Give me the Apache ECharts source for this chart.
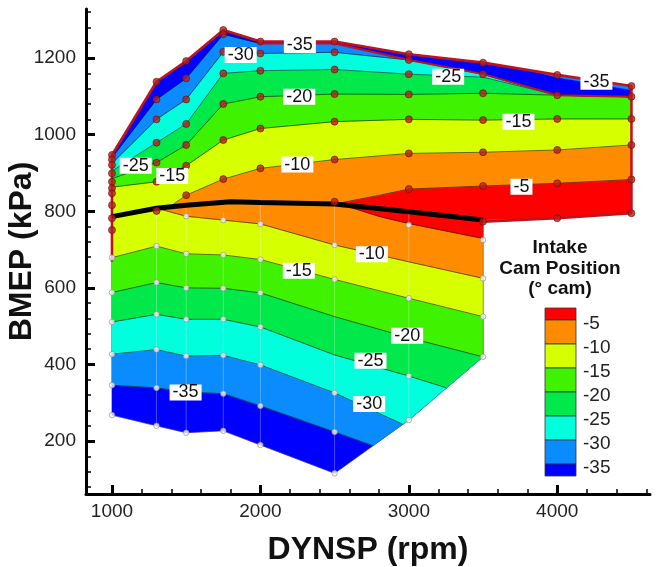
<!DOCTYPE html>
<html><head><meta charset="utf-8">
<script src="https://cdn.jsdelivr.net/npm/echarts@6/dist/echarts.min.js"></script>
<style>html,body{margin:0;padding:0;background:#fff}#c{width:657px;height:567px}</style>
</head><body><div id="c"></div>
<script>
// ---------- axes ----------
const X_MIN = 825, X_MAX = 4625, Y_MIN = 62, Y_MAX = 1328;
const xMajor = [1000, 2000, 3000, 4000];
const xMinor = [1200,1400,1600,1800,2200,2400,2600,2800,3200,3400,3600,3800,4200,4400,4600];
const yMajor = [200, 400, 600, 800, 1000, 1200];
const yMinor = [80,120,160,240,280,320,360,440,480,520,560,640,680,720,760,840,880,920,960,1040,1080,1120,1160,1240,1280,1320];

// ---------- band colours (low -> high cam position) ----------
const bandColors = ['#0000ff', '#0a8cff', '#00ffdd', '#00e84a', '#3ff200', '#d6ff00', '#ff8c00', '#ff0000'];
const legendLevels = ['-5', '-10', '-15', '-20', '-25', '-30', '-35'];

// ---------- boundaries ----------
const blackLine = [[1000,786],[1300,808],[1500,816],[1800,825],[2000,823],[2500,819],[3000,799],[3500,777]];
const lowBottom = [[1000,268],[1300,240],[1500,222],[1750,227],[2000,190],[2500,116],[3000,255],[3500,420]];
const upTop = [[1000,947],[1300,1138],[1500,1192],[1750,1273],[2000,1243],[2500,1243],[3000,1210],[3500,1188],[4000,1156],[4500,1127]];
const upBottomRight = [[4000,782],[4500,795]];
const redOutline = [[1000,668],[1000,947],[1300,1138],[1500,1192],[1750,1273],[2000,1243],[2500,1243],[3000,1210],[3500,1188],[4000,1156],[4500,1127],[4500,795],[4000,782],[3500,773]];
const redInner = [[2000,1238],[2500,1238],[3000,1195],[3500,1158],[4000,1103],[4500,1099]];

// ---------- lower map contours (value rises with BMEP) ----------
const lowM35 = [[1000,346],[1300,339],[1500,328],[1750,324],[2000,292],[2500,224],[2758,188]];
const lowM30 = [[1000,427],[1300,439],[1500,422],[1750,424],[2000,399],[2500,326],[2960,244]];
const lowM25 = [[1000,511],[1300,531],[1500,518],[1750,518],[2000,498],[2500,425],[3000,370],[3254,339]];
const lowM20 = [[1000,588],[1300,614],[1500,600],[1750,599],[2000,587],[2500,525],[3000,470],[3500,420]];
const lowM15 = [[1000,679],[1300,709],[1500,689],[1750,686],[2000,674],[2500,622],[3000,573],[3500,525]];
const lowM10 = [[1300,808],[1500,787],[1750,777],[2000,767],[2500,712],[3000,668],[3500,625]];
const lowM5  = [[2550,817],[2805,786],[3000,768],[3500,729]];

// ---------- upper map contours (value falls with BMEP) ----------
const upM5  = [[2500,819],[2805,842],[3000,858],[3500,866],[4000,873],[4500,883]];
const upM10 = [[1390,812],[1500,842],[1750,884],[2000,912],[2500,935],[3000,951],[3500,954],[4000,960],[4500,973]];
const upM15 = [[1000,863],[1300,877],[1500,919],[1750,986],[2000,1016],[2500,1034],[3000,1040],[3500,1038],[4000,1041],[4500,1041]];
const upM20 = [[1000,885],[1300,927],[1500,973],[1750,1080],[2000,1099],[2500,1106],[3000,1105],[3500,1108],[4000,1103],[4500,1099]];
const upM25 = [[1000,905],[1300,979],[1500,1028],[1750,1160],[2000,1167],[2500,1170],[3000,1158],[3500,1150],[4000,1103],[4500,1099]];
const upM30 = [[1000,925],[1300,1040],[1500,1092],[1750,1216],[2000,1212],[2500,1215],[3000,1195],[3500,1158],[4000,1103],[4500,1099]];
const upM35 = [[1000,940],[1300,1092],[1500,1147],[1750,1262],[2000,1238],[2500,1238],[3000,1195],[3500,1158],[4000,1103],[4500,1099]];
const upWedge = [[3800,1169],[4000,1150],[4500,1117]];

// ---------- measured points ----------
const redPoints = [
  [1000,947],[1000,935],[1000,921],[1000,899],[1000,877],[1000,860],[1000,847],[1000,816],[1000,782],[1000,751],
  [1300,1138],[1300,1092],[1300,1040],[1300,979],[1300,927],[1300,877],[1300,801],
  [1500,1192],[1500,1147],[1500,1092],[1500,1028],[1500,973],[1500,919],[1500,842],
  [1750,1273],[1750,1262],[1750,1216],[1750,1160],[1750,1080],[1750,986],[1750,884],
  [2000,1243],[2000,1212],[2000,1167],[2000,1099],[2000,1016],[2000,912],
  [2500,1243],[2500,1215],[2500,1170],[2500,1106],[2500,1034],[2500,935],[2500,825],
  [3000,1210],[3000,1195],[3000,1158],[3000,1105],[3000,1040],[3000,951],[3000,858],
  [3500,1188],[3500,1158],[3500,1108],[3500,1038],[3500,954],[3500,866],[3500,773],
  [4000,1156],[4000,1103],[4000,1041],[4000,960],[4000,873],[4000,782],
  [4500,1127],[4500,1099],[4500,1041],[4500,973],[4500,883],[4500,795]
];
const whitePoints = [
  [1000,268],[1000,346],[1000,427],[1000,511],[1000,588],[1000,679],
  [1300,240],[1300,339],[1300,439],[1300,531],[1300,614],[1300,709],
  [1500,222],[1500,328],[1500,422],[1500,518],[1500,600],[1500,689],[1500,787],
  [1750,227],[1750,324],[1750,424],[1750,518],[1750,599],[1750,686],[1750,777],
  [2000,190],[2000,292],[2000,399],[2000,498],[2000,587],[2000,674],[2000,767],
  [2500,116],[2500,224],[2500,326],[2500,622],[2500,712],
  [3000,255],[3000,370],[3000,573],[3000,764],
  [3500,420],[3500,525],[3500,625],[3500,725]
];

// ---------- contour labels ----------
const labelText = ['-35','-30','-20','-10','-25','-15','-25','-35','-15','-5','-15','-35','-10','-20','-25','-30'];
const labelPos = [[2266,1234],[1867,1208],[2262,1099],[2249,922],[1160,919],[1406,892],[3265,1151],[4264,1138],[3739,1034],[3759,864],[2259,645],[1496,327],[2751,688],[2989,475],[2742,410],[2733,297]];

// ---------- geometry helpers (work in data units) ----------
const SX = 564 / (X_MAX - X_MIN), SY = 485 / (Y_MAX - Y_MIN);
function locate(B, p) {
  let best = null;
  for (let i = 0; i < B.length; i++) {
    const a = B[i], b = B[(i + 1) % B.length];
    const ax = a[0]*SX, ay = a[1]*SY, bx = b[0]*SX, by = b[1]*SY, px = p[0]*SX, py = p[1]*SY;
    const dx = bx - ax, dy = by - ay, L2 = dx*dx + dy*dy;
    let t = L2 ? ((px-ax)*dx + (py-ay)*dy) / L2 : 0;
    t = Math.max(0, Math.min(1, t));
    const qx = ax + t*dx, qy = ay + t*dy, d = (px-qx)*(px-qx) + (py-qy)*(py-qy);
    if (!best || d < best.d - 1e-9) best = {i, t, d};
  }
  return best;
}
function above(B, line) {
  const n = B.length, s = locate(B, line[0]), e = locate(B, line[line.length - 1]);
  const pts = line.slice();
  let k = (e.i + 1) % n; const stop = (s.i + 1) % n; let g = 0;
  while (k !== stop && g++ < n) { pts.push(B[k]); k = (k + 1) % n; }
  return pts;
}
const lowBoundary = lowBottom.concat(blackLine.slice().reverse());
const upBoundary = [upBottomRight[1]].concat(upTop.slice().reverse(), blackLine, [upBottomRight[0]]);

const lowLines = [lowM35, lowM30, lowM25, lowM20, lowM15, lowM10, lowM5];
const upLines = [upM5, upM10, upM15, upM20, upM25, upM30, upM35];

const polys = [];
polys.push({pts: lowBoundary, color: bandColors[0]});
lowLines.forEach((ln, i) => polys.push({pts: above(lowBoundary, ln), color: bandColors[i + 1]}));
polys.push({pts: upBoundary, color: bandColors[7]});
upLines.forEach((ln, i) => polys.push({pts: above(upBoundary, ln), color: bandColors[6 - i]}));
polys.push({pts: above(upBoundary, upWedge), color: bandColors[1]});

const FONT = '"Liberation Sans", Arial, Helvetica, sans-serif';

const series = [];
series.push({
  type: 'custom', name: 'bands', coordinateSystem: 'cartesian2d', silent: true, z: 1,
  data: polys.map((p, i) => [i]),
  renderItem: function (params, api) {
    const p = polys[api.value(0)];
    return {type: 'polygon', z2: api.value(0),
      shape: {points: p.pts.map(q => api.coord(q))},
      style: {fill: p.color, stroke: p.color, lineWidth: 0.6}};
  }
});
// faint mesh columns of the lower map
const meshCols = [1300, 1500, 1750, 2000, 2500, 3000];
meshCols.forEach(function (cx) {
  const b = lowBottom.find(q => q[0] === cx), t = blackLine.find(q => q[0] === cx) || [cx, 799];
  series.push({type: 'line', silent: true, z: 2, symbol: 'none', animation: false,
    data: [b, [cx, t[1]]], lineStyle: {color: 'rgba(255,255,255,0.35)', width: 0.8}});
});
lowLines.concat(upLines).forEach(function (ln) {
  series.push({type: 'line', silent: true, z: 3, symbol: 'none', animation: false,
    data: ln, lineStyle: {color: 'rgba(20,20,20,0.75)', width: 0.8}});
});
series.push({type: 'line', silent: true, z: 4, symbol: 'none', animation: false,
  data: lowBottom.concat([[3500, 777]]), lineStyle: {color: 'rgba(90,90,90,0.5)', width: 0.6}});
series.push({type: 'line', silent: true, z: 5, symbol: 'none', animation: false,
  data: redInner, lineStyle: {color: '#c0141c', width: 2}});
series.push({type: 'line', silent: true, z: 5, symbol: 'none', animation: false,
  data: redOutline, lineStyle: {color: '#c0141c', width: 2.6}});
series.push({type: 'line', silent: true, z: 6, symbol: 'none', animation: false,
  data: blackLine, lineStyle: {color: '#000', width: 5}});
series.push({type: 'scatter', silent: true, z: 7, symbolSize: 5.5, animation: false,
  data: whitePoints, itemStyle: {color: '#f2f2f2', borderColor: '#8a8a8a', borderWidth: 0.8}});
series.push({type: 'scatter', silent: true, z: 7, symbolSize: 7, animation: false,
  data: redPoints, itemStyle: {color: '#b3211d', borderColor: '#6e0c0c', borderWidth: 0.8}});
series.push({
  type: 'custom', name: 'labels', coordinateSystem: 'cartesian2d', silent: true, z: 8,
  data: labelText.map((t, i) => [i]),
  renderItem: function (params, api) {
    const i = api.value(0), c = api.coord(labelPos[i]);
    return {type: 'text', x: c[0], y: c[1],
      style: {text: labelText[i], font: '18px ' + FONT, fill: '#111', align: 'center', verticalAlign: 'middle',
        backgroundColor: '#fff', padding: [1, 3, 0, 3], lineHeight: 15}};
  }
});

// ---------- legend (colour bar) ----------
const barColorsTopDown = bandColors.slice().reverse();
const graphics = [];
const barX = 545, barW = 31, barTop = 308, full = 24, half = 12;
let yy = barTop;
barColorsTopDown.forEach(function (col, i) {
  const h = (i === 0 || i === barColorsTopDown.length - 1) ? half : full;
  graphics.push({type: 'rect', shape: {x: barX, y: yy, width: barW, height: h},
    style: {fill: col, stroke: '#333', lineWidth: 0.8}, z: 10});
  if (i < legendLevels.length) {
    graphics.push({type: 'text', x: barX + barW + 7, y: yy + h + 4,
      style: {text: legendLevels[i], font: '19px ' + FONT, fill: '#222', verticalAlign: 'middle', align: 'left'}, z: 10});
  }
  yy += h;
});
['Intake', 'Cam Position', '(\u00b0 cam)'].forEach(function (t, i) {
  graphics.push({type: 'text', x: 560, y: 248 + i * 20.5,
    style: {text: t, font: 'bold 19px ' + FONT, fill: '#111', align: 'center', verticalAlign: 'middle'}, z: 10});
});

const plain = v => String(v);
const chart = echarts.init(document.getElementById('c'), null, {renderer: 'canvas'});
chart.setOption({
  animation: false,
  backgroundColor: '#fff',
  grid: {left: 86, right: 7, top: 9, bottom: 73, containLabel: false, outerBoundsMode: 'none'},
  xAxis: [{
    type: 'value', min: X_MIN, max: X_MAX, position: 'bottom',
    name: 'DYNSP (rpm)', nameLocation: 'middle', nameGap: 40, nameMoveOverlap: false,
    nameTextStyle: {fontFamily: FONT, fontWeight: 'bold', fontSize: 32, color: '#111'},
    axisLine: {onZero: false, lineStyle: {color: '#000', width: 3}},
    axisTick: {inside: true, length: 9, customValues: xMajor, lineStyle: {color: '#000', width: 3}},
    axisLabel: {customValues: xMajor, formatter: plain, fontFamily: FONT, fontSize: 19, color: '#222', margin: 8},
    splitLine: {show: false}
  }, {
    type: 'value', min: X_MIN, max: X_MAX, position: 'bottom',
    axisLine: {show: false},
    axisTick: {inside: true, length: 5, customValues: xMinor, lineStyle: {color: '#000', width: 1.5}},
    axisLabel: {show: false}, splitLine: {show: false}
  }],
  yAxis: [{
    type: 'value', min: Y_MIN, max: Y_MAX, position: 'left',
    name: 'BMEP (kPa)', nameLocation: 'middle', nameGap: 48, nameMoveOverlap: false,
    nameTextStyle: {fontFamily: FONT, fontWeight: 'bold', fontSize: 32, color: '#111'},
    axisLine: {onZero: false, lineStyle: {color: '#000', width: 3}},
    axisTick: {inside: true, length: 9, customValues: yMajor, lineStyle: {color: '#000', width: 3}},
    axisLabel: {customValues: yMajor, formatter: plain, fontFamily: FONT, fontSize: 19, color: '#222', margin: 10},
    splitLine: {show: false}
  }, {
    type: 'value', min: Y_MIN, max: Y_MAX, position: 'left',
    axisLine: {show: false},
    axisTick: {inside: true, length: 5, customValues: yMinor, lineStyle: {color: '#000', width: 1.5}},
    axisLabel: {show: false}, splitLine: {show: false}
  }],
  graphic: graphics,
  series: series
});
</script>
</body></html>
